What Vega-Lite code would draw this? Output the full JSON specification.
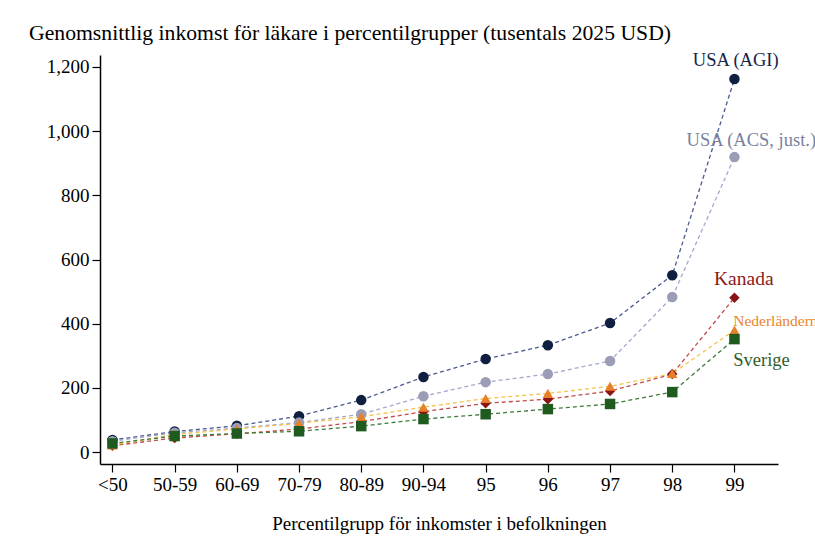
{
  "$schema": "https://vega.github.io/schema/vega-lite/v6.json",
  "width": 678,
  "height": 409,
  "autosize": {"type": "none"},
  "padding": {"left": 100, "top": 55, "right": 37, "bottom": 87},
  "background": "white",
  "config": {
    "view": {"stroke": null},
    "font": "Liberation Serif",
    "axis": {"grid": false, "domainColor": "#000", "tickColor": "#000", "labelColor": "#000", "titleColor": "#000", "labelFont": "Liberation Serif", "titleFont": "Liberation Serif", "domainWidth": 1.5, "tickWidth": 1.2}
  },
  "title": {
    "text": "Genomsnittlig inkomst för läkare i percentilgrupper (tusentals 2025 USD)",
    "anchor": "start",
    "frame": "group",
    "dx": -71,
    "offset": 6,
    "fontSize": 21.7,
    "fontWeight": "normal",
    "font": "Liberation Serif",
    "color": "#000"
  },
  "datasets": {
    "series": [
      {"land": "USA (AGI)", "i": 0, "grupp": "<50", "v": 38},
      {"land": "USA (AGI)", "i": 1, "grupp": "50-59", "v": 64},
      {"land": "USA (AGI)", "i": 2, "grupp": "60-69", "v": 82},
      {"land": "USA (AGI)", "i": 3, "grupp": "70-79", "v": 112},
      {"land": "USA (AGI)", "i": 4, "grupp": "80-89", "v": 162},
      {"land": "USA (AGI)", "i": 5, "grupp": "90-94", "v": 234},
      {"land": "USA (AGI)", "i": 6, "grupp": "95", "v": 290},
      {"land": "USA (AGI)", "i": 7, "grupp": "96", "v": 333},
      {"land": "USA (AGI)", "i": 8, "grupp": "97", "v": 402},
      {"land": "USA (AGI)", "i": 9, "grupp": "98", "v": 551},
      {"land": "USA (AGI)", "i": 10, "grupp": "99", "v": 1162},
      {"land": "USA (ACS, just.)", "i": 0, "grupp": "<50", "v": 34},
      {"land": "USA (ACS, just.)", "i": 1, "grupp": "50-59", "v": 60},
      {"land": "USA (ACS, just.)", "i": 2, "grupp": "60-69", "v": 75},
      {"land": "USA (ACS, just.)", "i": 3, "grupp": "70-79", "v": 92},
      {"land": "USA (ACS, just.)", "i": 4, "grupp": "80-89", "v": 118},
      {"land": "USA (ACS, just.)", "i": 5, "grupp": "90-94", "v": 174},
      {"land": "USA (ACS, just.)", "i": 6, "grupp": "95", "v": 218},
      {"land": "USA (ACS, just.)", "i": 7, "grupp": "96", "v": 243},
      {"land": "USA (ACS, just.)", "i": 8, "grupp": "97", "v": 284},
      {"land": "USA (ACS, just.)", "i": 9, "grupp": "98", "v": 483},
      {"land": "USA (ACS, just.)", "i": 10, "grupp": "99", "v": 919},
      {"land": "Kanada", "i": 0, "grupp": "<50", "v": 20},
      {"land": "Kanada", "i": 1, "grupp": "50-59", "v": 44},
      {"land": "Kanada", "i": 2, "grupp": "60-69", "v": 57},
      {"land": "Kanada", "i": 3, "grupp": "70-79", "v": 72},
      {"land": "Kanada", "i": 4, "grupp": "80-89", "v": 95},
      {"land": "Kanada", "i": 5, "grupp": "90-94", "v": 126},
      {"land": "Kanada", "i": 6, "grupp": "95", "v": 152},
      {"land": "Kanada", "i": 7, "grupp": "96", "v": 165},
      {"land": "Kanada", "i": 8, "grupp": "97", "v": 190},
      {"land": "Kanada", "i": 9, "grupp": "98", "v": 243},
      {"land": "Kanada", "i": 10, "grupp": "99", "v": 481},
      {"land": "Nederländerna", "i": 0, "grupp": "<50", "v": 22},
      {"land": "Nederländerna", "i": 1, "grupp": "50-59", "v": 55},
      {"land": "Nederländerna", "i": 2, "grupp": "60-69", "v": 72},
      {"land": "Nederländerna", "i": 3, "grupp": "70-79", "v": 90},
      {"land": "Nederländerna", "i": 4, "grupp": "80-89", "v": 110},
      {"land": "Nederländerna", "i": 5, "grupp": "90-94", "v": 140},
      {"land": "Nederländerna", "i": 6, "grupp": "95", "v": 167},
      {"land": "Nederländerna", "i": 7, "grupp": "96", "v": 183},
      {"land": "Nederländerna", "i": 8, "grupp": "97", "v": 205},
      {"land": "Nederländerna", "i": 9, "grupp": "98", "v": 245},
      {"land": "Nederländerna", "i": 10, "grupp": "99", "v": 380},
      {"land": "Sverige", "i": 0, "grupp": "<50", "v": 27},
      {"land": "Sverige", "i": 1, "grupp": "50-59", "v": 50},
      {"land": "Sverige", "i": 2, "grupp": "60-69", "v": 58},
      {"land": "Sverige", "i": 3, "grupp": "70-79", "v": 65},
      {"land": "Sverige", "i": 4, "grupp": "80-89", "v": 81},
      {"land": "Sverige", "i": 5, "grupp": "90-94", "v": 103},
      {"land": "Sverige", "i": 6, "grupp": "95", "v": 118},
      {"land": "Sverige", "i": 7, "grupp": "96", "v": 134},
      {"land": "Sverige", "i": 8, "grupp": "97", "v": 150},
      {"land": "Sverige", "i": 9, "grupp": "98", "v": 187},
      {"land": "Sverige", "i": 10, "grupp": "99", "v": 352}
    ],
    "labels": [
      {"land": "USA (AGI)", "lx": 10.02, "ly": 1221, "grp": "ca"},
      {"land": "USA (ACS, just.)", "lx": 9.23, "ly": 972, "grp": "la"},
      {"land": "Kanada", "lx": 10.15, "ly": 539, "grp": "cb"},
      {"land": "Nederländerna", "lx": 9.98, "ly": 408, "grp": "lc"},
      {"land": "Sverige", "lx": 9.98, "ly": 287, "grp": "la"}
    ]
  },
  "encoding": {
    "x": {
      "field": "i", "type": "quantitative",
      "scale": {"domain": [-0.2, 10.7], "nice": false, "zero": false},
      "axis": {
        "title": "Percentilgrupp för inkomster i befolkningen",
        "values": [0,1,2,3,4,5,6,7,8,9,10],
        "labelExpr": "['<50','50-59','60-69','70-79','80-89','90-94','95','96','97','98','99'][datum.value]",
        "labelFontSize": 19, "titleFontSize": 19, "titleFontWeight": "normal",
        "tickSize": 8, "labelPadding": 3, "titlePadding": 20
      }
    },
    "y": {
      "field": "v", "type": "quantitative",
      "scale": {"domain": [-37, 1237], "nice": false, "zero": false},
      "axis": {
        "title": null,
        "values": [0, 200, 400, 600, 800, 1000, 1200],
        "labelExpr": "format(datum.value, ',')",
        "labelFontSize": 19, "tickSize": 8, "labelPadding": 3
      }
    }
  },
  "layer": [
    {
      "data": {"name": "series"},
      "mark": {"type": "line", "strokeDash": [4, 3], "strokeWidth": 1.3},
      "encoding": {
        "detail": {"field": "land"},
        "stroke": {
          "field": "land", "type": "nominal", "legend": null,
          "scale": {"domain": ["USA (AGI)", "USA (ACS, just.)", "Kanada", "Nederländerna", "Sverige"],
                    "range": ["#4a5a8c", "#a3a8d0", "#c24a4a", "#f5c24a", "#3f7a3a"]}
        }
      }
    },
    {
      "data": {"name": "series"},
      "mark": {"type": "point", "filled": true, "opacity": 1, "strokeWidth": 0.8},
      "encoding": {
        "fill": {
          "field": "land", "type": "nominal", "legend": null,
          "scale": {"domain": ["USA (AGI)", "USA (ACS, just.)", "Kanada", "Nederländerna", "Sverige"],
                    "range": ["#0f1f40", "#9a9db5", "#8b1515", "#e6802a", "#1f5a1f"]}
        },
        "shape": {
          "field": "land", "type": "nominal", "legend": null,
          "scale": {"domain": ["USA (AGI)", "USA (ACS, just.)", "Kanada", "Nederländerna", "Sverige"],
                    "range": ["circle", "circle", "diamond", "triangle-up", "square"]}
        },
        "size": {
          "field": "land", "type": "nominal", "legend": null,
          "scale": {"domain": ["USA (AGI)", "USA (ACS, just.)", "Kanada", "Nederländerna", "Sverige"],
                    "range": [110, 110, 140, 150, 130]}
        }
      }
    },
    {
      "data": {"name": "labels"},
      "transform": [{"filter": "datum.grp == 'ca'"}],
      "mark": {"type": "text", "baseline": "middle", "align": "center", "font": "Liberation Serif", "fontSize": 18.5},
      "encoding": {
        "x": {"field": "lx", "type": "quantitative"},
        "y": {"field": "ly", "type": "quantitative"},
        "text": {"field": "land"},
        "color": {
          "field": "land", "type": "nominal", "legend": null,
          "scale": {"domain": ["USA (AGI)", "USA (ACS, just.)", "Kanada", "Nederländerna", "Sverige"],
                    "range": ["#14244a", "#7a7f9e", "#8b1a1a", "#e8852a", "#2d5e2a"]}
        }
      }
    },
    {
      "data": {"name": "labels"},
      "transform": [{"filter": "datum.grp == 'la'"}],
      "mark": {"type": "text", "baseline": "middle", "align": "left", "font": "Liberation Serif", "fontSize": 18.5},
      "encoding": {
        "x": {"field": "lx", "type": "quantitative"},
        "y": {"field": "ly", "type": "quantitative"},
        "text": {"field": "land"},
        "color": {"field": "land", "type": "nominal", "legend": null}
      }
    },
    {
      "data": {"name": "labels"},
      "transform": [{"filter": "datum.grp == 'cb'"}],
      "mark": {"type": "text", "baseline": "middle", "align": "center", "font": "Liberation Serif", "fontSize": 19.5},
      "encoding": {
        "x": {"field": "lx", "type": "quantitative"},
        "y": {"field": "ly", "type": "quantitative"},
        "text": {"field": "land"},
        "color": {"field": "land", "type": "nominal", "legend": null}
      }
    },
    {
      "data": {"name": "labels"},
      "transform": [{"filter": "datum.grp == 'lc'"}],
      "mark": {"type": "text", "baseline": "middle", "align": "left", "font": "Liberation Serif", "fontSize": 15.5},
      "encoding": {
        "x": {"field": "lx", "type": "quantitative"},
        "y": {"field": "ly", "type": "quantitative"},
        "text": {"field": "land"},
        "color": {"field": "land", "type": "nominal", "legend": null}
      }
    }
  ]
}
